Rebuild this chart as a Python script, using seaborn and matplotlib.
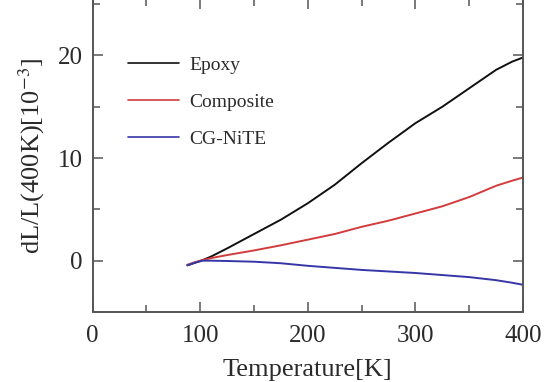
import matplotlib
matplotlib.use("Agg")
import matplotlib.pyplot as plt
import seaborn as sns
import pandas as pd
from matplotlib.ticker import MultipleLocator

# ---- data ----
temperature = [88, 95, 102, 110, 125, 150, 175, 200, 225, 250, 275, 300, 325, 350, 375, 390, 400]
epoxy = [-0.45, -0.2, 0.05, 0.4, 1.2, 2.6, 4.0, 5.6, 7.4, 9.5, 11.5, 13.4, 15.0, 16.8, 18.6, 19.4, 19.8]
composite = [-0.4, -0.15, 0.05, 0.25, 0.55, 1.0, 1.5, 2.05, 2.6, 3.3, 3.9, 4.6, 5.3, 6.2, 7.3, 7.8, 8.1]
cg_nite = [-0.45, -0.2, 0.0, 0.0, -0.03, -0.1, -0.25, -0.5, -0.7, -0.9, -1.05, -1.2, -1.4, -1.6, -1.9, -2.15, -2.35]
series_names = ["Epoxy", "Composite", "CG-NiTE"]
colors = ["#111111", "#d23c3c", "#3636a8"]

rows = []
for name, vals in zip(series_names, [epoxy, composite, cg_nite]):
    for t, v in zip(temperature, vals):
        rows.append({"T": t, "dL": v, "series": name})
df = pd.DataFrame(rows)

sns.set_style("ticks")
plt.rcParams["font.family"] = ["Liberation Serif", "DejaVu Serif"]
plt.rcParams["mathtext.fontset"] = "stix"

fig = plt.figure(figsize=(5.51, 3.82), dpi=100)
W, H = 551, 382
left, right, bottom, top = 92.7, 523, 312, -1
ax = fig.add_axes([left / W, 1 - bottom / H, (right - left) / W, (bottom - top) / H])

sns.lineplot(data=df, x="T", y="dL", hue="series", palette=dict(zip(series_names, colors)),
             hue_order=series_names, sort=False, estimator=None, linewidth=1.4, ax=ax, legend=False)

ax.set_xlim(0, 400)
ax.set_ylim(-5, 25.5)
ax.xaxis.set_major_locator(MultipleLocator(100))
ax.xaxis.set_minor_locator(MultipleLocator(50))
ax.yaxis.set_major_locator(MultipleLocator(10))
ax.yaxis.set_minor_locator(MultipleLocator(5))

spine_c = "#555555"
text_c = "#2a2a2a"
for s in ax.spines.values():
    s.set_color(spine_c)
    s.set_linewidth(1.4)
ax.tick_params(which="both", direction="in", top=True, right=True, colors=spine_c,
               labelcolor=text_c, labelsize=18, width=1.1)
ax.tick_params(which="major", length=7)
ax.tick_params(which="minor", length=5)
ax.tick_params(axis="x", pad=9)
ax.tick_params(axis="y", pad=7)

ax.set_xlabel("Temperature[K]", fontsize=19, color=text_c, labelpad=9)
ax.set_ylabel(r"dL/L(400K)[10$^{-3}$]", fontsize=19, color=text_c, labelpad=8)

handles = [plt.Line2D([], [], color=c, linewidth=1.2) for c in colors]
leg = ax.legend(handles, series_names, loc="upper left", frameon=False,
                bbox_to_anchor=(128 / W, 1 - 56 / H), bbox_transform=fig.transFigure,
                borderaxespad=0, borderpad=0, handlelength=2.6, handletextpad=0.57,
                labelspacing=1.0, fontsize=14)
for t in leg.get_texts():
    t.set_color(text_c)

fig.savefig("out.png", dpi=100)
